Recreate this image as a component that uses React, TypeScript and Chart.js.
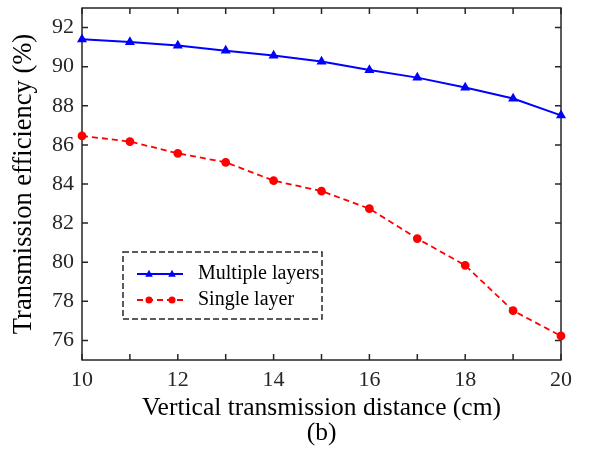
import React, { useEffect, useRef } from "react";
import { Chart, registerables } from "chart.js";

Chart.register(...registerables);

const distances = [10, 11, 12, 13, 14, 15, 16, 17, 18, 19, 20];
const multipleLayers = [91.4, 91.26, 91.08, 90.82, 90.57, 90.26, 89.83, 89.44, 88.93, 88.37, 87.51];
const singleLayer = [86.46, 86.17, 85.57, 85.11, 84.17, 83.64, 82.74, 81.21, 79.84, 77.52, 76.23];
const xTicks = [10, 11, 12, 13, 14, 15, 16, 17, 18, 19, 20];
const yTicks = [76, 78, 80, 82, 84, 86, 88, 90, 92];
const seriesLabels = ["Multiple layers", "Single layer"];

const FONT = "'Liberation Serif', 'Times New Roman', serif";
const AXIS = "#262626";

const framePlugin = {
  id: "frame",
  beforeDatasetsDraw(chart: any) {
    const { ctx, chartArea: a, scales } = chart;
    ctx.save();
    ctx.strokeStyle = AXIS;
    ctx.lineWidth = 1.5;
    ctx.strokeRect(a.left, a.top, a.right - a.left, a.bottom - a.top);
    const L = 6;
    ctx.beginPath();
    scales.x.ticks.forEach((t: any) => {
      const px = scales.x.getPixelForValue(t.value);
      ctx.moveTo(px, a.bottom);
      ctx.lineTo(px, a.bottom - L);
      ctx.moveTo(px, a.top);
      ctx.lineTo(px, a.top + L);
    });
    scales.y.ticks.forEach((t: any) => {
      const py = scales.y.getPixelForValue(t.value);
      ctx.moveTo(a.left, py);
      ctx.lineTo(a.left + L, py);
      ctx.moveTo(a.right, py);
      ctx.lineTo(a.right - L, py);
    });
    ctx.stroke();
    ctx.restore();
  },
};

const legendPlugin = {
  id: "boxLegend",
  afterDraw(chart: any) {
    const { ctx } = chart;
    const bx = 123, by = 252, bw = 199, bh = 67;
    ctx.save();
    ctx.fillStyle = "#ffffff";
    ctx.fillRect(bx, by, bw, bh);
    ctx.setLineDash([6, 3]);
    ctx.strokeStyle = AXIS;
    ctx.lineWidth = 1.5;
    ctx.strokeRect(bx, by, bw, bh);
    const rows = [274, 300];
    chart.data.datasets.forEach((ds: any, i: number) => {
      const y = rows[i];
      ctx.setLineDash(ds.borderDash || []);
      ctx.strokeStyle = ds.borderColor;
      ctx.lineWidth = ds.borderWidth;
      ctx.beginPath();
      ctx.moveTo(137, y);
      ctx.lineTo(183, y);
      ctx.stroke();
      ctx.setLineDash([]);
      [149, 172].forEach((mx) => {
        ctx.fillStyle = ds.pointBackgroundColor;
        ctx.beginPath();
        if (ds.pointStyle === "triangle") {
          const r = ds.pointRadius;
          ctx.moveTo(mx, y - r * 1.1);
          ctx.lineTo(mx + r, y + r * 0.7);
          ctx.lineTo(mx - r, y + r * 0.7);
          ctx.closePath();
        } else {
          ctx.arc(mx, y, ds.pointRadius, 0, Math.PI * 2);
        }
        ctx.fill();
      });
      ctx.fillStyle = "#000000";
      ctx.font = `20px ${FONT}`;
      ctx.textBaseline = "middle";
      ctx.textAlign = "left";
      ctx.fillText(ds.label, 198, y);
    });
    ctx.restore();
  },
};

export default function App() {
  const ref = useRef<HTMLCanvasElement | null>(null);
  useEffect(() => {
    if (!ref.current) return;
    const chart = new Chart(ref.current, {
      type: "line",
      data: {
        datasets: [
          {
            label: seriesLabels[0],
            data: distances.map((x, i) => ({ x, y: multipleLayers[i] })),
            borderColor: "#0000ff",
            backgroundColor: "#0000ff",
            pointBackgroundColor: "#0000ff",
            pointBorderColor: "#0000ff",
            pointStyle: "triangle",
            pointRadius: 3.8,
            borderWidth: 2,
            clip: false,
          } as any,
          {
            label: seriesLabels[1],
            data: distances.map((x, i) => ({ x, y: singleLayer[i] })),
            borderColor: "#ff0000",
            backgroundColor: "#ff0000",
            pointBackgroundColor: "#ff0000",
            pointBorderColor: "#ff0000",
            pointStyle: "circle",
            pointRadius: 3.5,
            borderWidth: 1.8,
            borderDash: [6, 4],
            clip: false,
          } as any,
        ],
      },
      options: {
        animation: false,
        responsive: false,
        devicePixelRatio: 1,
        layout: { padding: { left: 0, right: 41, top: 8, bottom: 0 } },
        plugins: {
          legend: { display: false },
          tooltip: { enabled: false },
        },
        scales: {
          x: {
            type: "linear",
            min: 10,
            max: 20,
            afterBuildTicks: (s: any) => {
              s.ticks = xTicks.map((v) => ({ value: v }));
            },
            afterFit: (s: any) => {
              s.height = 99;
              s.paddingLeft = 0;
              s.paddingRight = 0;
            },
            grid: { display: false, drawTicks: false },
            border: { display: false },
            ticks: {
              padding: 7,
              color: AXIS,
              font: { family: FONT, size: 22 },
              callback: (v: any) => (Number(v) % 2 === 0 ? String(v) : ""),
              autoSkip: false,
              maxRotation: 0,
            },
            title: {
              display: true,
              text: ["Vertical transmission distance (cm)", "(b)"],
              color: "#000000",
              font: { family: FONT, size: 25.5, lineHeight: 1.0 },
              padding: { top: 0, bottom: 12.5 },
            },
          },
          y: {
            type: "linear",
            min: 75,
            max: 93,
            afterBuildTicks: (s: any) => {
              s.ticks = yTicks.map((v) => ({ value: v }));
            },
            afterFit: (s: any) => {
              s.width = 82;
              s.paddingTop = 0;
              s.paddingBottom = 0;
            },
            grid: { display: false, drawTicks: false },
            border: { display: false },
            ticks: {
              padding: 8,
              color: AXIS,
              font: { family: FONT, size: 22 },
            },
            title: {
              display: true,
              text: "Transmission efficiency (%)",
              color: "#000000",
              font: { family: FONT, size: 26.5, lineHeight: 1.2 },
              padding: { top: 8, bottom: 0 },
            },
          },
        },
      },
      plugins: [framePlugin, legendPlugin],
    });
    return () => chart.destroy();
  }, []);
  return (
    <div style={{ position: "absolute", left: 0, top: 0, width: 602, height: 459, background: "#fff" }}>
      <canvas ref={ref} width={602} height={459} style={{ display: "block" }} />
    </div>
  );
}
